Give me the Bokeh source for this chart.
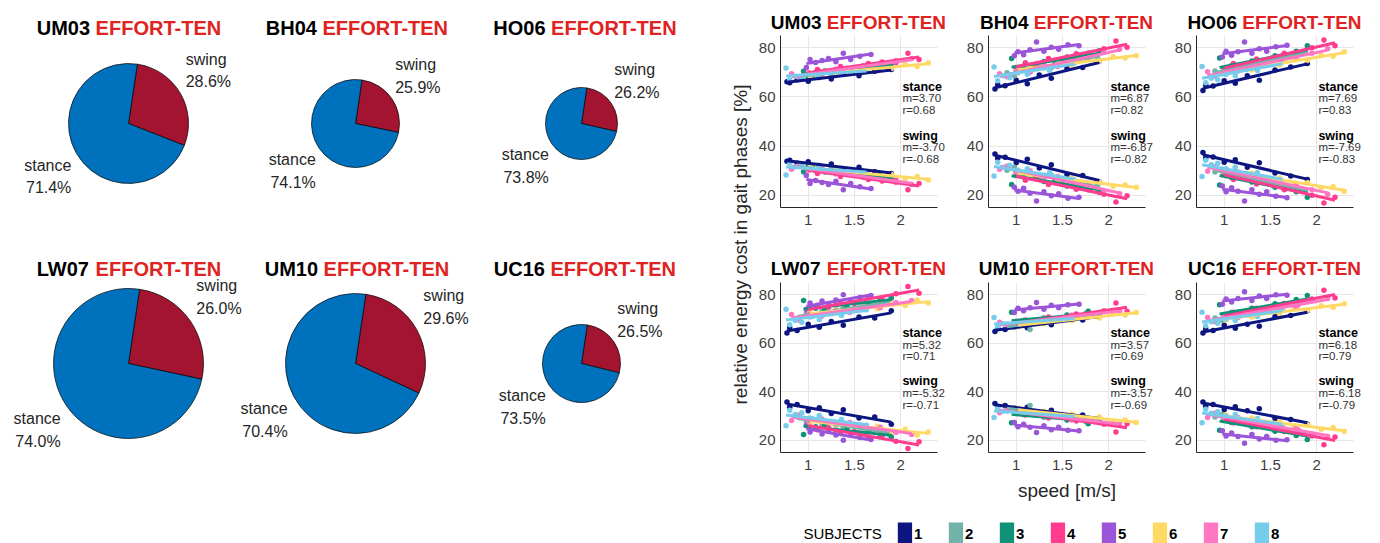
import numpy as np
from bokeh.plotting import figure
from bokeh.layouts import row, column
from bokeh.models import Range1d, FixedTicker, NumeralTickFormatter, Grid
from bokeh.embed import file_html
from bokeh.resources import INLINE
from bokeh.core.properties import value

# ---------------- data ----------------
SUBJECT_IDS = ["UM03", "BH04", "HO06", "LW07", "UM10", "UC16"]
CONDITION = "EFFORT-TEN"
STANCE_PCT = [71.4, 74.1, 73.8, 74.0, 70.4, 73.5]
SWING_PCT = [28.6, 25.9, 26.2, 26.0, 29.6, 26.5]
PIE_SIZE = [60, 44, 36, 75, 70, 39]          # relative pie radius
SLOPE = [3.70, 6.87, 7.69, 5.32, 3.57, 6.18]
R_VAL = [0.68, 0.82, 0.83, 0.71, 0.69, 0.79]
LEGEND_LABELS = ["1", "2", "3", "4", "5", "6", "7", "8"]
X_TICKS = [1, 1.5, 2]
Y_TICKS = [20, 40, 60, 80]

SPEED_S1 = [0.77, 0.80, 0.88, 1.00, 1.12, 1.25, 1.38, 1.55, 1.72, 1.90]
SPEED_S2 = [0.90, 0.98, 1.05, 1.15, 1.25, 1.38, 1.50, 1.62, 1.75, 1.88]
SPEED_S3 = [0.95, 1.00, 1.08, 1.18, 1.30, 1.42, 1.55, 1.66, 1.78, 1.90]
SPEED_S4 = [1.00, 1.10, 1.22, 1.35, 1.50, 1.65, 1.80, 1.95, 2.08, 2.20]
SPEED_S5 = [0.98, 1.02, 1.08, 1.15, 1.22, 1.30, 1.38, 1.46, 1.56, 1.68]
SPEED_S6 = [1.02, 1.15, 1.30, 1.45, 1.60, 1.75, 1.90, 2.05, 2.18, 2.30]
SPEED_S7 = [0.82, 0.90, 1.00, 1.15, 1.30, 1.45, 1.60, 1.78, 1.95, 2.12]
SPEED_S8 = [0.76, 0.80, 0.86, 0.93, 1.02, 1.12, 1.24, 1.36, 1.50, 1.63]

STANCE_UM03 = [
    [66.2, 65.8, 67.0, 66.4, 67.9, 67.3, 69.2, 68.6, 70.4, 71.2],
    [68.0, 69.6, 68.4, 70.3, 69.2, 71.2, 70.3, 72.0, 71.4, 73.0],
    [70.4, 68.2, 69.9, 70.6, 69.8, 71.6, 70.8, 72.6, 71.9, 73.4],
    [69.6, 71.2, 70.4, 72.4, 71.8, 73.6, 74.2, 73.9, 77.8, 75.2],
    [72.0, 75.2, 74.0, 74.8, 75.6, 74.3, 77.8, 75.2, 76.6, 77.3],
    [68.6, 70.2, 69.6, 71.2, 70.4, 72.3, 71.6, 73.2, 72.4, 73.8],
    [69.4, 67.8, 70.0, 69.2, 71.4, 70.6, 72.8, 72.4, 74.8, 75.6],
    [71.8, 67.0, 68.4, 67.6, 69.2, 68.4, 70.1, 69.4, 71.0, 70.8],
]
STANCE_BH04 = [
    [63.2, 65.0, 64.6, 66.8, 65.4, 68.9, 67.6, 71.6, 72.0, 74.6],
    [69.8, 68.6, 71.0, 70.4, 72.6, 71.9, 74.6, 73.9, 76.4, 76.2],
    [75.6, 70.6, 72.6, 71.9, 74.4, 73.6, 76.2, 75.0, 77.8, 78.8],
    [72.0, 73.9, 73.4, 75.6, 75.2, 77.6, 77.2, 79.6, 82.8, 80.2],
    [76.8, 78.4, 77.2, 79.2, 82.4, 78.6, 80.2, 79.4, 81.2, 80.8],
    [70.6, 72.4, 71.8, 73.6, 73.0, 75.2, 74.6, 76.4, 75.8, 76.8],
    [69.4, 68.2, 70.4, 70.0, 72.8, 72.4, 75.4, 75.6, 78.2, 79.4],
    [72.2, 66.6, 68.6, 67.8, 69.8, 69.2, 71.6, 70.9, 73.6, 73.8],
]
STANCE_HO06 = [
    [62.6, 65.0, 64.4, 66.6, 65.6, 68.6, 66.8, 71.0, 72.2, 73.6],
    [70.6, 69.4, 71.8, 71.2, 73.6, 73.0, 75.6, 75.0, 77.4, 78.2],
    [75.8, 70.8, 72.8, 72.2, 74.6, 74.0, 76.8, 76.2, 78.6, 80.8],
    [71.4, 73.6, 73.0, 75.4, 75.0, 77.8, 77.4, 80.0, 83.2, 80.8],
    [76.2, 78.6, 77.0, 78.4, 82.4, 77.8, 79.6, 78.6, 80.4, 81.0],
    [69.6, 71.6, 71.0, 73.4, 73.0, 75.2, 74.8, 77.0, 76.6, 78.4],
    [70.2, 68.4, 70.2, 70.6, 72.6, 72.8, 75.2, 76.0, 77.8, 79.6],
    [72.4, 65.8, 67.6, 67.0, 69.2, 68.6, 71.2, 70.8, 73.6, 74.2],
]
STANCE_LW07 = [
    [64.2, 66.4, 65.2, 67.8, 66.6, 68.9, 67.4, 70.8, 70.4, 73.4],
    [70.6, 72.4, 71.2, 73.6, 72.6, 74.6, 73.8, 76.0, 75.4, 77.6],
    [77.6, 72.4, 74.4, 73.6, 75.6, 74.8, 77.0, 76.2, 78.2, 78.6],
    [73.4, 75.6, 74.8, 76.8, 76.4, 78.6, 78.0, 80.4, 83.4, 80.6],
    [74.0, 76.6, 75.0, 77.4, 76.0, 77.8, 80.0, 77.2, 78.8, 79.6],
    [72.8, 71.8, 73.8, 73.0, 75.2, 74.2, 76.2, 75.4, 77.8, 76.6],
    [71.8, 69.6, 72.0, 71.2, 73.4, 72.6, 75.0, 74.6, 76.8, 77.6],
    [74.0, 67.6, 69.4, 68.6, 70.8, 69.8, 72.2, 71.4, 74.0, 73.8],
]
STANCE_UM10 = [
    [64.8, 66.2, 65.6, 67.2, 66.4, 68.4, 67.6, 69.8, 69.6, 71.4],
    [67.8, 66.6, 68.6, 65.6, 69.4, 68.8, 70.6, 70.0, 72.2, 71.6],
    [72.8, 67.6, 69.4, 68.6, 70.4, 69.6, 71.6, 70.8, 73.2, 72.6],
    [67.4, 69.6, 69.0, 70.8, 70.2, 72.0, 71.4, 73.4, 76.6, 73.2],
    [72.6, 74.4, 73.4, 74.6, 76.8, 74.0, 75.6, 74.6, 75.8, 76.0],
    [66.8, 68.6, 68.0, 69.8, 69.2, 70.8, 70.4, 72.2, 71.6, 72.6],
    [68.6, 67.0, 69.0, 68.4, 70.2, 69.6, 71.6, 71.0, 73.4, 73.2],
    [70.6, 66.6, 68.0, 67.2, 68.8, 67.8, 69.6, 68.8, 70.6, 70.4],
]
STANCE_UC16 = [
    [64.2, 66.0, 65.2, 67.4, 66.2, 67.8, 67.0, 71.0, 71.4, 73.4],
    [70.4, 69.4, 71.8, 71.2, 73.2, 72.8, 74.8, 74.4, 76.6, 77.2],
    [75.8, 70.8, 72.6, 72.0, 74.4, 73.8, 76.2, 75.6, 78.0, 79.6],
    [71.0, 72.8, 72.2, 74.4, 74.0, 76.4, 75.8, 78.2, 81.8, 78.6],
    [76.0, 78.2, 77.0, 78.4, 81.2, 77.6, 79.4, 78.4, 80.0, 79.8],
    [69.6, 71.4, 70.8, 72.8, 72.2, 74.2, 73.6, 75.4, 74.8, 76.2],
    [70.6, 68.8, 71.0, 70.6, 73.0, 72.6, 75.2, 74.8, 77.4, 78.4],
    [72.8, 67.2, 68.8, 68.2, 70.0, 69.4, 71.8, 71.0, 73.4, 74.0],
]

SPEEDS = [SPEED_S1, SPEED_S2, SPEED_S3, SPEED_S4, SPEED_S5, SPEED_S6, SPEED_S7, SPEED_S8]
STANCE_SETS = [STANCE_UM03, STANCE_BH04, STANCE_HO06, STANCE_LW07, STANCE_UM10, STANCE_UC16]

# ---------------- styles / layout ----------------
FONT = value("Liberation Sans")
SUBJ_COLORS = ["#0D1580", "#72B2A8", "#0F9276", "#FF3C8E", "#9B55D9", "#FFD966", "#FF77C3", "#77CCEC"]
STANCE_COLOR = "#0072BD"
SWING_COLOR = "#A2142F"
RED = "#E02222"
TXT = "#262626"

BOLD_W = {'U': 722, 'M': 833, 'B': 722, 'H': 722, 'O': 778, 'L': 611, 'W': 944, 'C': 722,
          'E': 667, 'F': 611, 'R': 722, 'T': 611, '-': 333, 'N': 722, ' ': 278}


def bold_width(s, size):
    return sum(BOLD_W.get(ch, 556) for ch in s) / 1000.0 * size


def title_offsets(name, size):
    w_id = bold_width(name, size)
    w_sp = bold_width(" ", size)
    total = w_id + w_sp + bold_width(CONDITION, size)
    return -total / 2.0, -total / 2.0 + w_id + w_sp


def draw_title(p, name, cx, cy, size):
    o1, o2 = title_offsets(name, size)
    p.text(x=[cx], y=[cy], text=[name], x_offset=o1, text_align="left", text_baseline="middle",
           text_font=FONT, text_font_size="%dpx" % size, text_font_style="bold", text_color="black")
    p.text(x=[cx], y=[cy], text=[CONDITION], x_offset=o2, text_align="left", text_baseline="middle",
           text_font=FONT, text_font_size="%dpx" % size, text_font_style="bold", text_color=RED)


def blank_fig(w, h, x0, y_top):
    f = figure(width=w, height=h, x_range=Range1d(x0, x0 + w), y_range=Range1d(-y_top - h, -y_top),
               output_backend="svg", toolbar_location=None, min_border=0,
               x_axis_location=None, y_axis_location=None)
    f.outline_line_color = None
    f.grid.visible = False
    return f


# ---------------- left figure: pies ----------------
LEFT_W, FIG_H = 752, 543
left = blank_fig(LEFT_W, FIG_H, 0, 0)

PIE_COL_X = [128, 355, 581]
PIE_ROW_Y = [123, 363]
TITLE_COL_X = [129, 357, 585]
TITLE_ROW_Y = [27.5, 268]
START = np.deg2rad(81.5)

for i, name in enumerate(SUBJECT_IDS):
    cx = PIE_COL_X[i % 3]
    cy = -PIE_ROW_Y[i // 3]
    r = PIE_SIZE[i]
    sw = SWING_PCT[i] / 100.0 * 2 * np.pi
    left.wedge(x=[cx], y=[cy], radius=r, start_angle=START - sw, end_angle=START,
               fill_color=SWING_COLOR, line_color="black", line_width=0.7)
    left.wedge(x=[cx], y=[cy], radius=r, start_angle=START, end_angle=START - sw + 2 * np.pi,
               fill_color=STANCE_COLOR, line_color="black", line_width=0.7)
    for mid, lab, pct in [(START - sw / 2, "swing", SWING_PCT[i]),
                          (START + (2 * np.pi - sw) / 2, "stance", STANCE_PCT[i])]:
        ax = cx + 1.1 * r * np.cos(mid)
        ay = cy + 1.1 * r * np.sin(mid)
        left.text(x=[ax], y=[ay], text=["%s\n%.1f%%" % (lab, pct)],
                  text_align="left" if np.cos(mid) > 0 else "right",
                  text_baseline="bottom" if np.sin(mid) > 0 else "top",
                  text_font=FONT, text_font_size="16px", text_color=TXT, text_line_height=1.35)
    draw_title(left, name, TITLE_COL_X[i % 3], -TITLE_ROW_Y[i // 3], 20)

left.text(x=[740], y=[-244], text=["relative energy cost in gait phases [%]"], angle=np.pi / 2,
          text_align="center", text_baseline="middle", text_font=FONT, text_font_size="19px", text_color=TXT)

# ---------------- scatter panels ----------------
X_RANGE = (0.7, 2.4)
Y_RANGE = (15, 85)
FRAME_W = 157
EXTRA_W = 10          # room on the right of each frame for the stance/swing notes
PX_PER_X = FRAME_W / (X_RANGE[1] - X_RANGE[0])
X_VIEW = (X_RANGE[0], X_RANGE[1] + EXTRA_W / PX_PER_X)
LB = [28, 39, 39]
RB = 12
GRID_COLOR = "#E6E6E6"


def scatter_panel(i, frame_h, top_b, bottom_b, left_b):
    p = figure(frame_width=FRAME_W + EXTRA_W, frame_height=frame_h, x_range=Range1d(*X_VIEW),
               y_range=Range1d(*Y_RANGE), output_backend="svg", toolbar_location=None,
               min_border_left=left_b, min_border_right=RB - EXTRA_W, min_border_top=top_b,
               min_border_bottom=bottom_b)
    p.outline_line_color = None
    p.xaxis.ticker = FixedTicker(ticks=X_TICKS)
    p.yaxis.ticker = FixedTicker(ticks=Y_TICKS)
    p.xaxis.formatter = NumeralTickFormatter(format="0.[0]")
    p.yaxis.formatter = NumeralTickFormatter(format="0")
    p.xaxis.bounds = X_RANGE
    for ax in [p.xaxis[0], p.yaxis[0]]:
        ax.axis_line_color = "#262626"
        ax.axis_line_width = 1
        ax.major_tick_in = 0
        ax.major_tick_out = 0
        ax.minor_tick_in = 0
        ax.minor_tick_out = 0
        ax.major_label_text_font = "Liberation Sans"
        ax.major_label_text_font_size = "15px"
        ax.major_label_text_color = "#404040"
    p.xaxis.major_label_standoff = 7
    p.yaxis.major_label_standoff = 5
    p.grid.grid_line_color = GRID_COLOR
    p.grid.grid_line_width = 1
    if "cross_bounds" in Grid.properties():
        p.ygrid[0].cross_bounds = X_RANGE

    stance_sets = STANCE_SETS[i]
    for s in range(8):
        xs = SPEEDS[s]
        ys = stance_sets[s]
        p.scatter(xs, ys, size=5.5, fill_color=SUBJ_COLORS[s], line_color=None)
        p.scatter(xs, [100 - v for v in ys], size=5.5, fill_color=SUBJ_COLORS[s], line_color=None)
    for s in range(8):
        xs = np.array(SPEEDS[s])
        ys = np.array(stance_sets[s])
        k, b = np.polyfit(xs, ys, 1)
        lx = np.array([xs.min(), xs.max()])
        ly = k * lx + b
        p.line(lx, ly, line_width=3, line_color=SUBJ_COLORS[s])
        p.line(lx, 100 - ly, line_width=3, line_color=SUBJ_COLORS[s])

    pxu = frame_h / (Y_RANGE[1] - Y_RANGE[0])
    step = 11.7 / pxu
    for y0, lab, sign in [(64.2, "stance", 1), (44.3, "swing", -1)]:
        p.text(x=[2.02], y=[y0], text=[lab], text_align="left", text_baseline="middle",
               text_font=FONT, text_font_size="12.5px", text_font_style="bold", text_color="black")
        p.text(x=[2.02, 2.02], y=[y0 - step, y0 - 2 * step],
               text=["m=%.2f" % (sign * SLOPE[i]), "r=%.2f" % (sign * R_VAL[i])],
               text_align="left", text_baseline="middle",
               text_font=FONT, text_font_size="11.5px", text_color="#333333")
    return p


STRIP_W = sum(LB) + 3 * (FRAME_W + RB)
X0 = LEFT_W
FRAME_CX = []
acc = X0
for c in range(3):
    FRAME_CX.append(acc + LB[c] + FRAME_W / 2.0)
    acc += LB[c] + FRAME_W + RB

# title strip above top row (page y 0..33)
t1 = blank_fig(STRIP_W, 33, X0, 0)
for c in range(3):
    draw_title(t1, SUBJECT_IDS[c], FRAME_CX[c], -21.7, 19)
top_row = row([scatter_panel(c, 172, 2, 43, LB[c]) for c in range(3)])      # page y 33..250

# title strip above bottom row (page y 250..280)
t2 = blank_fig(STRIP_W, 30, X0, 250)
for c in range(3):
    draw_title(t2, SUBJECT_IDS[3 + c], FRAME_CX[c], -268.3, 19)
bot_row = row([scatter_panel(3 + c, 170, 2, 26, LB[c]) for c in range(3)])  # page y 280..478

# bottom strip: x label + legend (page y 478..543)
strip = blank_fig(STRIP_W, 65, X0, 478)
strip.text(x=[FRAME_CX[1]], y=[-490], text=["speed [m/s]"], text_align="center", text_baseline="middle",
           text_font=FONT, text_font_size="19px", text_color=TXT)
strip.text(x=[803], y=[-533], text=["SUBJECTS"], text_align="left", text_baseline="middle",
           text_font=FONT, text_font_size="15px", text_color="black")
leg_x0 = [897.3 + 51.0 * k for k in range(len(LEGEND_LABELS))]
strip.quad(left=leg_x0, right=[x + 14.3 for x in leg_x0], bottom=[-543] * 8, top=[-522] * 8,
           fill_color=SUBJ_COLORS, line_color=None)
strip.text(x=[x + 16.3 for x in leg_x0], y=[-533] * 8, text=LEGEND_LABELS, text_align="left",
           text_baseline="middle", text_font=FONT, text_font_size="15px", text_font_style="bold",
           text_color="black")

layout = row(left, column(t1, top_row, t2, bot_row, strip))

open("out.html", "w").write(file_html(layout, INLINE))
